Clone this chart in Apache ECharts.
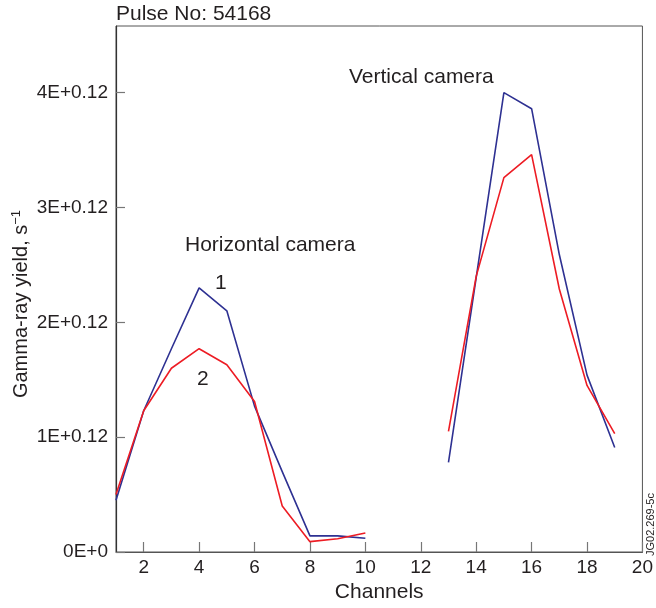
<!DOCTYPE html>
<html>
<head>
<meta charset="utf-8">
<script src="https://cdn.jsdelivr.net/npm/echarts@6/dist/echarts.min.js"></script>
<style>
html,body{margin:0;padding:0;background:#fff;}
#chart{width:656px;height:608px;}
</style>
</head>
<body>
<div id="chart"></div>
<script>
// Data (values in units of 1E+0.12 s^-1)
const channels = [1,2,3,4,5,6,7,8,9,10,11,12,13,14,15,16,17,18,19];
const series1 = [0.45,1.23,1.77,2.30,2.10,1.27,0.70,0.14,0.14,0.12,null,null,0.78,2.39,4.00,3.86,2.59,1.54,0.91];
const series2 = [0.50,1.23,1.60,1.77,1.63,1.31,0.40,0.09,0.115,0.165,null,null,1.05,2.40,3.26,3.46,2.29,1.45,1.03];
const xTicks = [2,4,6,8,10,12,14,16,18,20];
const yTicks = [0,1,2,3,4];
const yTickLabels = ['0E+0','1E+0.12','2E+0.12','3E+0.12','4E+0.12'];

const FONT = 'Liberation Sans, Arial, Helvetica, sans-serif';
const TXT = '#231f20';
const chart = echarts.init(document.getElementById('chart'), null, {renderer:'canvas'});

function pairs(vals){ return channels.map((c,i)=>[c, vals[i]]); }

chart.setOption({
  animation:false,
  backgroundColor:'#fff',
  grid:{left:116, right:11, top:26, bottom:54, show:true, borderColor:'#555', borderWidth:1},
  xAxis:{
    type:'value', min:1, max:20,
    name:'Channels', nameLocation:'middle', nameGap:30,
    nameTextStyle:{fontFamily:FONT, fontSize:21, color:TXT},
    axisLine:{show:true, lineStyle:{color:'#555', width:1.2}},
    axisTick:{show:true, inside:true, length:10, customValues:xTicks, lineStyle:{color:'#777', width:1.2}},
    axisLabel:{customValues:xTicks, fontFamily:FONT, fontSize:19, color:TXT, margin:6},
    splitLine:{show:false}
  },
  yAxis:{
    type:'value', min:0, max:4.58,
    axisLine:{show:true, lineStyle:{color:'#333', width:1.2}},
    axisTick:{show:true, inside:true, length:9, customValues:yTicks, lineStyle:{color:'#777', width:1.2}},
    axisLabel:{customValues:yTicks, fontFamily:FONT, fontSize:19, color:TXT, margin:8,
      formatter:function(v){ const i=yTicks.indexOf(Math.round(v)); return i>=0?yTickLabels[i]:''; }},
    splitLine:{show:false}
  },
  series:[
    {type:'line', name:'1', data:pairs(series1), showSymbol:false, connectNulls:false,
      lineStyle:{color:'#2e3192', width:1.6}, itemStyle:{color:'#2e3192'}},
    {type:'line', name:'2', data:pairs(series2), showSymbol:false, connectNulls:false,
      lineStyle:{color:'#ed1c24', width:1.6}, itemStyle:{color:'#ed1c24'}}
  ],
  graphic:[
    {type:'text', left:116, top:4, style:{text:'Pulse No: 54168', font:'21px '+FONT, fill:TXT}},
    {type:'text', left:185, top:235, style:{text:'Horizontal camera', font:'21px '+FONT, fill:TXT}},
    {type:'text', left:215, top:273, style:{text:'1', font:'21px '+FONT, fill:TXT}},
    {type:'text', left:197, top:369, style:{text:'2', font:'21px '+FONT, fill:TXT}},
    {type:'text', left:349, top:67, style:{text:'Vertical camera', font:'21px '+FONT, fill:TXT}},
    {type:'text', x:21, y:304, rotation:Math.PI/2,
      style:{text:'Gamma-ray yield, s{sup|−1}', font:'20px '+FONT, fill:TXT, textAlign:'center', textVerticalAlign:'middle',
        rich:{sup:{fontFamily:FONT, fontSize:13, fill:TXT, padding:[0,0,9,0]}}}},
    {type:'text', x:651, y:556, rotation:Math.PI/2, style:{text:'JG02.269-5c', font:'11px '+FONT, fill:TXT, textAlign:'left', textVerticalAlign:'middle'}}
  ]
});
</script>
</body>
</html>
